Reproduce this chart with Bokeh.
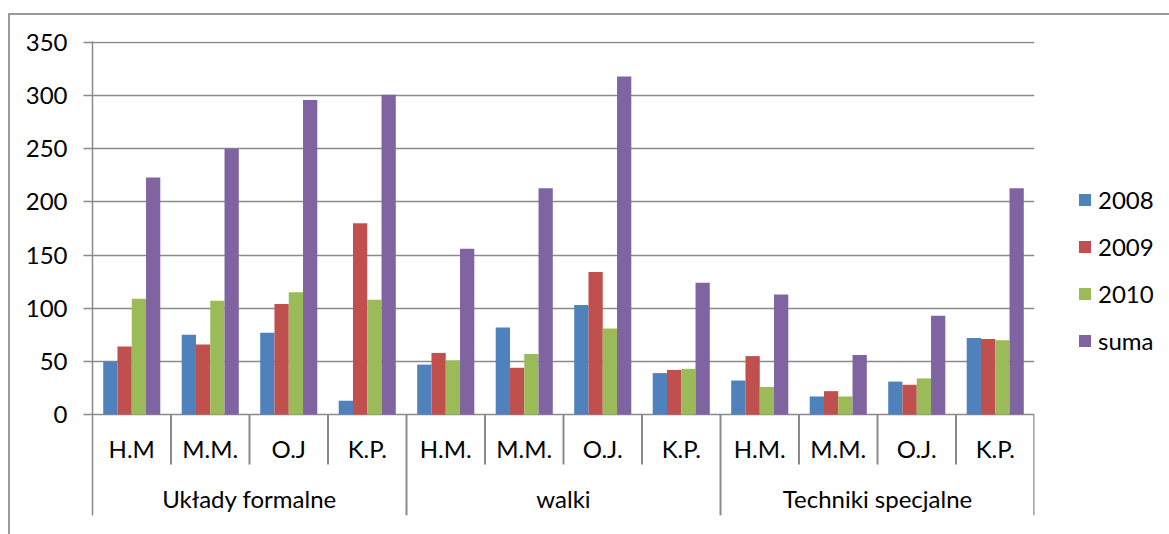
from bokeh.plotting import figure
from bokeh.layouts import row
from bokeh.models import (FactorRange, Range1d, FixedTicker, Legend, LegendItem,
                          ColumnDataSource)
from bokeh.transform import dodge
from bokeh.core.properties import value
from bokeh.embed import file_html
from bokeh.resources import INLINE

# ---- data -------------------------------------------------------------
groups = ["Układy formalne", "walki", "Techniki specjalne"]
people = [
    ["H.M", "M.M.", "O.J", "K.P."],
    ["H.M.", "M.M.", "O.J.", "K.P."],
    ["H.M.", "M.M.", "O.J.", "K.P."],
]
series = ["2008", "2009", "2010", "suma"]
v2008 = [50, 75, 77, 13, 47, 82, 103, 39, 32, 17, 31, 72]
v2009 = [64, 66, 104, 180, 58, 44, 134, 42, 55, 22, 28, 71]
v2010 = [109, 107, 115, 108, 51, 57, 81, 43, 26, 17, 34, 70]
suma = [223, 250, 296, 301, 156, 213, 318, 124, 113, 56, 93, 213]
y_ticks = [0, 50, 100, 150, 200, 250, 300, 350]

colors = ["#4F81BD", "#C0504D", "#9BBB59", "#8064A2"]
FONT = "Lato"
FSIZE = "24px"
GRID = "#8a8a8a"

factors = [(g, c) for g, cs in zip(groups, people) for c in cs]
src = ColumnDataSource(dict(x=factors, s2008=v2008, s2009=v2009,
                            s2010=v2010, ssuma=suma))
x_range = FactorRange(*factors, factor_padding=0, group_padding=0,
                      subgroup_padding=0, range_padding=0)

p = figure(
    x_range=x_range,
    y_range=Range1d(-95, 351),
    width=1026, height=519,
    output_backend="svg", toolbar_location=None,
    x_axis_location=None,
    min_border_left=82, min_border_top=26, min_border_right=2,
    min_border_bottom=19,
)
p.outline_line_color = None
p.background_fill_color = "white"
p.border_fill_color = "white"

# y axis and horizontal grid
p.yaxis.ticker = FixedTicker(ticks=y_ticks)
p.yaxis.minor_tick_line_color = None
p.yaxis.major_tick_in = 0
p.yaxis.major_tick_out = 9
p.yaxis.major_tick_line_color = GRID
p.yaxis.major_tick_line_width = 1.5
p.yaxis.axis_line_color = GRID
p.yaxis.axis_line_width = 1.5
p.yaxis.major_label_text_font = FONT
p.yaxis.major_label_text_font_size = FSIZE
p.yaxis.major_label_text_color = "black"
p.yaxis.major_label_standoff = 16
p.ygrid.ticker = FixedTicker(ticks=y_ticks)
p.ygrid.grid_line_color = GRID
p.ygrid.grid_line_width = 1.3
p.xgrid.grid_line_color = None

# clustered bars
bw = 0.1818
cols = ["s2008", "s2009", "s2010", "ssuma"]
for i, (col, c) in enumerate(zip(cols, colors)):
    p.vbar(x=dodge("x", (i - 1.5) * bw, range=x_range), top=col,
           bottom=0, width=bw, source=src, fill_color=c, line_color=None)

# category separators below the baseline
inner_x, outer_x = [], []
for g, cs in zip(groups, people):
    for j, c in enumerate(cs):
        if j > 0:
            inner_x.append((g, c))
        else:
            outer_x.append((g, c))
sep_in = ColumnDataSource(dict(x=inner_x, y0=[0] * len(inner_x),
                               y1=[-47] * len(inner_x)))
p.segment(x0=dodge("x", -0.5, range=x_range), x1=dodge("x", -0.5, range=x_range),
          y0="y0", y1="y1", source=sep_in, line_color=GRID, line_width=2)
sep_out = ColumnDataSource(dict(x=outer_x[1:], y0=[0] * 2, y1=[-95] * 2))
p.segment(x0=dodge("x", -0.5, range=x_range), x1=dodge("x", -0.5, range=x_range),
          y0="y0", y1="y1", source=sep_out, line_color=GRID, line_width=2)
sep_end = ColumnDataSource(dict(x=[factors[-1]], y0=[0], y1=[-95]))
p.segment(x0=dodge("x", 0.5, range=x_range), x1=dodge("x", 0.5, range=x_range),
          y0="y0", y1="y1", source=sep_end, line_color=GRID, line_width=2.5)

# person labels and group labels
lab_src = ColumnDataSource(dict(x=factors, y=[-32] * len(factors),
                                t=[c for _, c in factors]))
p.text(x="x", y="y", text="t", source=lab_src, text_font=value(FONT),
       text_font_size=FSIZE, text_align="center", text_baseline="middle",
       text_color="black")
grp_src = ColumnDataSource(dict(x=[(g, cs[1]) for g, cs in zip(groups, people)],
                                y=[-79] * 3, t=groups))
p.text(x=dodge("x", 0.5, range=x_range), y="y", text="t", source=grp_src,
       text_font=value(FONT), text_font_size=FSIZE, text_align="center",
       text_baseline="middle", text_color="black")

# legend panel to the right of the chart; its zero-width bar renderers only
# supply the series colours to the legend swatches
lp = figure(width=133, height=519, output_backend="svg", toolbar_location=None,
            x_axis_location=None, y_axis_location=None,
            x_range=x_range, y_range=Range1d(1000, 1001),
            min_border=0)
lp.outline_line_color = None
lp.xgrid.grid_line_color = None
lp.ygrid.grid_line_color = None
swatches = []
for col, c in zip(cols, colors):
    swatches.append(lp.vbar(x="x", top=col, bottom=0, width=0, source=src,
                            fill_color=c, line_color=None))
legend = Legend(
    items=[LegendItem(label=s, renderers=[r]) for s, r in zip(series, swatches)],
    location=(41, 160), orientation="vertical",
    glyph_width=15, glyph_height=15, label_standoff=6, spacing=18,
    padding=0, margin=0, border_line_color=None, background_fill_alpha=0,
    label_text_font=FONT, label_text_font_size=FSIZE, label_text_color="black",
)
lp.add_layout(legend)

chart = row(p, lp, spacing=0)
chart.margin = (13, 0, 0, 8)
chart.styles = {"border-left": "2px solid #9a9a9a", "border-top": "2px solid #9a9a9a"}

open("out.html", "w").write(file_html(chart, INLINE))
